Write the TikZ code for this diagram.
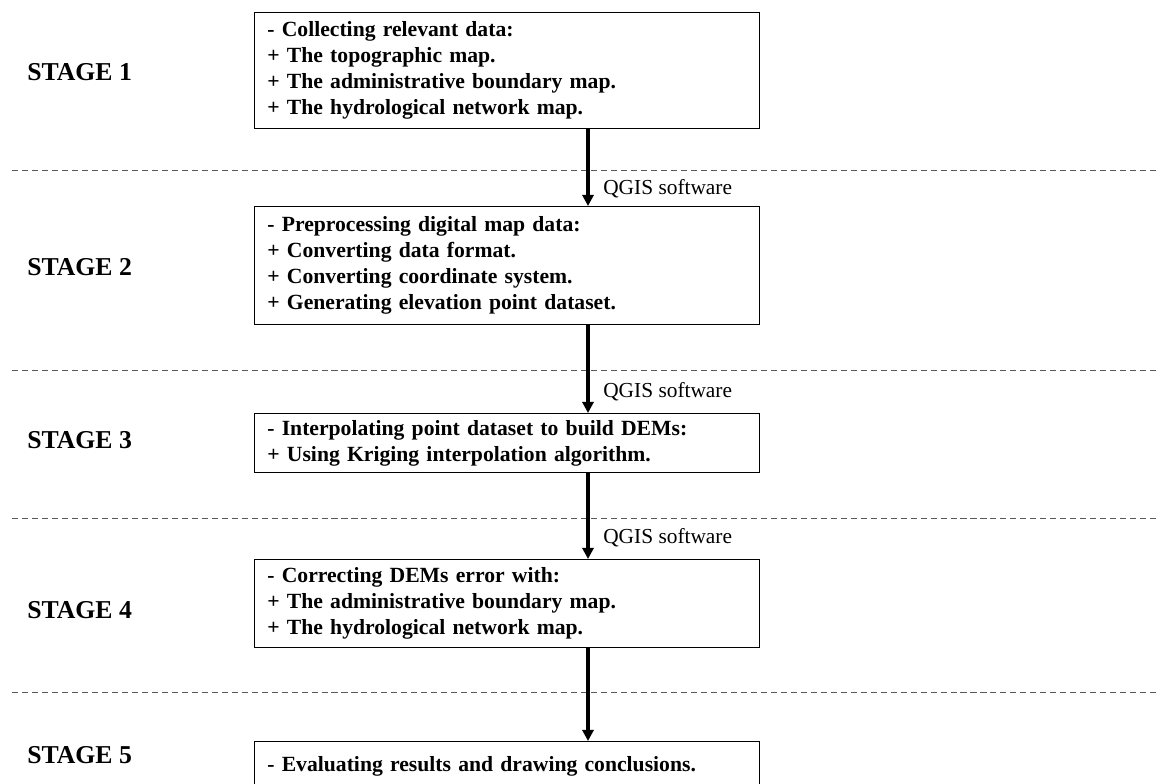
\documentclass[tikz,border=0pt]{standalone}
\usepackage{fontspec}
\setmainfont{Liberation Serif}
\usetikzlibrary{arrows.meta}

\begin{document}
\begin{tikzpicture}[x=0.025cm, y=-0.025cm]
    \tikzstyle{stepbox} = [rectangle, draw, line width=0.8pt, anchor=north west, inner xsep=0.32cm,
        text width=11.99cm, align=left, font=\bfseries\fontsize{15.4}{18.6}\selectfont]
    \tikzstyle{stage} = [anchor=base west, inner sep=0pt, font=\bfseries\fontsize{18.3}{20}\selectfont]
    \tikzstyle{tool} = [anchor=base west, inner sep=0pt, font=\fontsize{15.2}{17}\selectfont]
    \tikzstyle{sep} = [dashed, dash pattern=on 4.3pt off 2.8pt, gray!70!black, line width=0.7pt]
    \tikzstyle{flow} = [line width=2.5pt, -{Triangle[length=8pt, width=8pt]}]

    \useasboundingbox (0,0) rectangle (1156,783);
    \clip (0,0) rectangle (1156,783);

    \node (s1) at (27, 80) [stage] {STAGE 1};
    \node (s2) at (27, 275) [stage] {STAGE 2};
    \node (s3) at (27, 448) [stage] {STAGE 3};
    \node (s4) at (27, 618) [stage] {STAGE 4};
    \node (s5) at (27, 763) [stage] {STAGE 5};

    \node (b1) at (254, 12) [stepbox, minimum height=2.9cm] {- Collecting relevant data:\\
        + The topographic map.\\
        + The administrative boundary map.\\
        + The hydrological network map.};
    \node (b2) at (254, 206) [stepbox, minimum height=2.95cm] {- Preprocessing digital map data:\\
        + Converting data format.\\
        + Converting coordinate system.\\
        + Generating elevation point dataset.};
    \node (b3) at (254, 413) [stepbox, minimum height=1.475cm] {- Interpolating point dataset to build DEMs:\\
        + Using Kriging interpolation algorithm.};
    \node (b4) at (254, 559) [stepbox, minimum height=2.2cm] {- Correcting DEMs error with:\\
        + The administrative boundary map.\\
        + The hydrological network map.};
    \node (b5) at (254, 741) [stepbox, minimum height=1.25cm] {- Evaluating results and drawing conclusions.};

    \node (q1) at (603, 194) [tool] {QGIS software};
    \node (q2) at (603, 397) [tool] {QGIS software};
    \node (q3) at (603, 543) [tool] {QGIS software};

    \coordinate (ax) at (588, 0);
    \coordinate (l1) at (12, 170);
    \coordinate (r1) at (1156, 170);
    \coordinate (l2) at (12, 370);
    \coordinate (r2) at (1156, 370);
    \coordinate (l3) at (12, 518);
    \coordinate (r3) at (1156, 518);
    \coordinate (l4) at (12, 692);
    \coordinate (r4) at (1156, 692);

    \draw [sep] (l1) -- (r1);
    \draw [sep] (l2) -- (r2);
    \draw [sep] (l3) -- (r3);
    \draw [sep] (l4) -- (r4);

    \draw [flow] (b1.south -| ax) -- (b2.north -| ax);
    \draw [flow] (b2.south -| ax) -- (b3.north -| ax);
    \draw [flow] (b3.south -| ax) -- (b4.north -| ax);
    \draw [flow] (b4.south -| ax) -- (b5.north -| ax);
\end{tikzpicture}
\end{document}
